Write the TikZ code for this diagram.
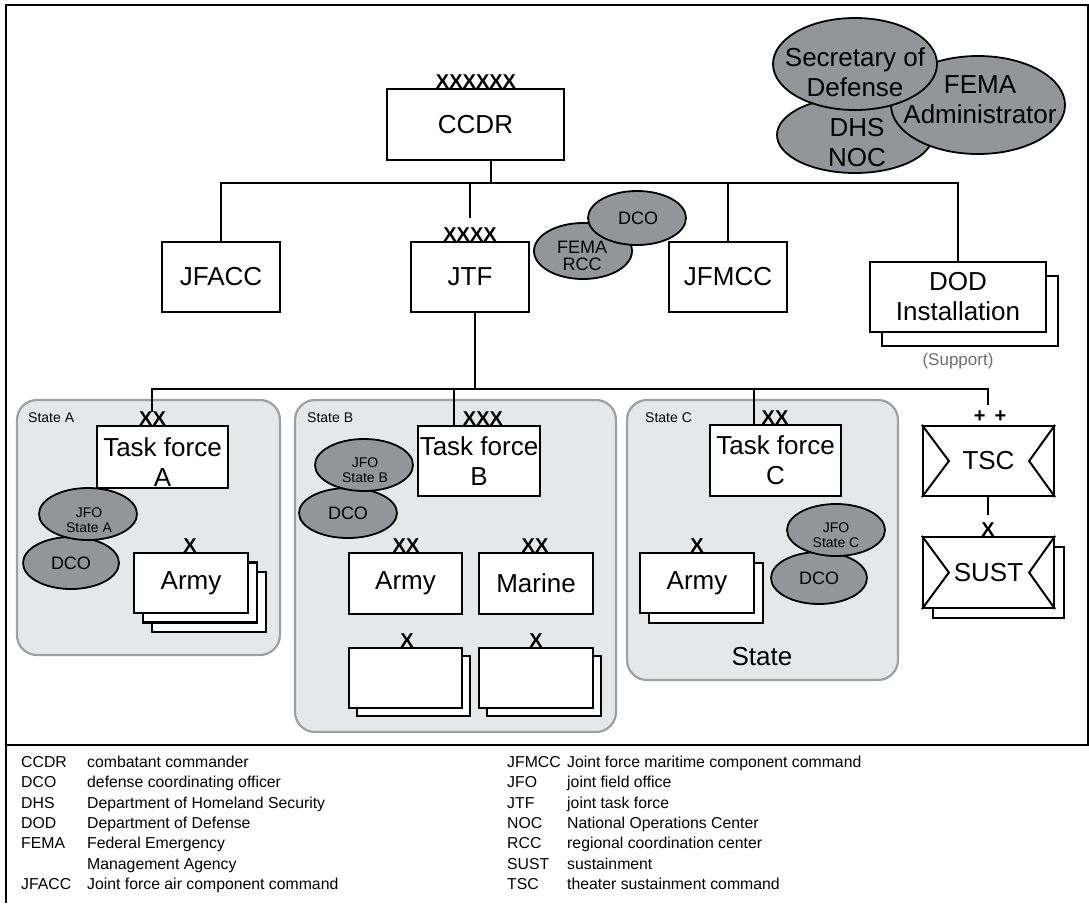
\documentclass[tikz,border=0pt]{standalone}
\usepackage{fontspec}
\setmainfont{Liberation Sans}
\usetikzlibrary{shapes.geometric,shadows,calc}
\definecolor{ellgray}{HTML}{939598}
\definecolor{statefill}{HTML}{E6E7E8}
\definecolor{stateedge}{HTML}{9D9FA2}
\definecolor{supgray}{HTML}{6D6E71}
\begin{document}
\begin{tikzpicture}[x=1pt,y=-1pt,
  box/.style={draw, line width=2.2pt, fill=white, inner sep=0pt, align=center,
    font=\fontsize{26}{30}\selectfont},
  ell/.style={ellipse, draw, line width=1.8pt, fill=ellgray, inner sep=0pt},
  etext/.style={align=center, inner sep=0pt},
  boxtext/.style={etext, font=\fontsize{26}{30}\selectfont},
  bigtext/.style={etext, font=\fontsize{26}{30}\selectfont},
  midtext/.style={etext, font=\fontsize{18}{17}\selectfont},
  smalltext/.style={etext, font=\fontsize{14}{15}\selectfont},
  statebox/.style={draw=stateedge, fill=statefill, line width=2.2pt, rounded corners=20pt, inner sep=0pt},
  statelabel/.style={anchor=west, inner sep=0pt, font=\fontsize{14}{16}\selectfont},
  conn/.style={line width=2pt},
  ech/.style={anchor=south, inner sep=0pt, font=\fontsize{20}{20}\bfseries\selectfont},
  leg/.style={anchor=base west, inner sep=0pt, font=\fontsize{15.8}{18}\selectfont},
  frame/.style={line width=2.5pt}
]
\useasboundingbox (0,0) rectangle (1089,903);

% frame
\draw[frame] (6,903) -- (6,5) -- (1088,5) -- (1088,745);
\draw[frame] (6,745) -- (1089,745);

% state areas
\node[statebox, minimum width=263pt, minimum height=255pt] (stA) at (148.5,527.5) {};
\node[statebox, minimum width=321pt, minimum height=332pt] (stB) at (455.5,566) {};
\node[statebox, minimum width=271pt, minimum height=280pt] (stC) at (762.5,540) {};
\node[statelabel] (stAl) at (28,418) {State A};
\node[statelabel] (stBl) at (307,418) {State B};
\node[statelabel] (stCl) at (645,418) {State C};
\node[boxtext] (stCs) at (762,657) {State};

% top ellipses
\node[ell, minimum width=156pt, minimum height=76pt] (dhs) at (855,135) {};
\node[ell, minimum width=174pt, minimum height=98pt] (femaadm) at (978,105) {};
\node[ell, minimum width=164pt, minimum height=92pt] (secdef) at (855,64) {};
\node[bigtext] (secdeft) at (855,72) {Secretary of\\Defense};
\node[bigtext] (femaadmt) at (980,100) {FEMA\\Administrator};
\node[bigtext] (dhst) at (857,143) {DHS\\NOC};

% boxes
\node[box, minimum width=177pt, minimum height=71pt] (ccdr) at (475.5,124.5) {CCDR};
\node[box, minimum width=118pt, minimum height=70pt] (jfacc) at (221,277) {JFACC};
\node[box, minimum width=118pt, minimum height=70pt] (jtf) at (470,277) {JTF};
\node[box, minimum width=118pt, minimum height=70pt] (jfmcc) at (728,277) {JFMCC};
\node[box, minimum width=176pt, minimum height=70pt,
  copy shadow={shadow xshift=12pt, shadow yshift=-14pt}] (dod) at (958,297) {DOD\\Installation};
\node[etext, text=supgray, font=\fontsize{17}{20}\selectfont] (support) at (958,361) {(Support)};

\node[box, minimum width=131pt, minimum height=62pt] (tfa) at (162.5,457) {};
\node[boxtext] (tfat) at (162.5,462) {Task force\\A};
\node[box, minimum width=122pt, minimum height=70pt] (tfb) at (479,461) {Task force\\B};
\node[box, minimum width=131pt, minimum height=71pt] (tfc) at (775.5,460.5) {Task force\\C};
\node[box, minimum width=131pt, minimum height=70pt] (tsc) at (988.5,461) {TSC};
\node[box, minimum width=131pt, minimum height=71pt,
  copy shadow={shadow xshift=10pt, shadow yshift=-10pt}] (sust) at (988.5,572.5) {SUST};

\node[box, minimum width=114pt, minimum height=60pt,
  double copy shadow={shadow xshift=9pt, shadow yshift=-9.5pt}] (armya) at (191,583) {Army};
\node[box, minimum width=113pt, minimum height=61pt] (armyb) at (405.5,583.5) {Army};
\node[box, minimum width=114pt, minimum height=61pt] (marine) at (536,583.5) {Marine};
\node[box, minimum width=113pt, minimum height=60pt,
  copy shadow={shadow xshift=8pt, shadow yshift=-8pt}] (emptyb1) at (405.5,678) {};
\node[box, minimum width=114pt, minimum height=60pt,
  copy shadow={shadow xshift=8pt, shadow yshift=-8pt}] (emptyb2) at (536,678) {};
\node[box, minimum width=114pt, minimum height=60pt,
  copy shadow={shadow xshift=9pt, shadow yshift=-10pt}] (armyc) at (697,583) {Army};

% chevrons in TSC / SUST
\draw[line width=2pt] (tsc.north west) -- ($(tsc.west)+(27,0)$) -- (tsc.south west);
\draw[line width=2pt] (tsc.north east) -- ($(tsc.east)+(-26,0)$) -- (tsc.south east);
\draw[line width=2pt] (sust.north west) -- ($(sust.west)+(27,0)$) -- (sust.south west);
\draw[line width=2pt] (sust.north east) -- ($(sust.east)+(-26,0)$) -- (sust.south east);

% ellipses near JTF
\node[ell, minimum width=98pt, minimum height=56pt] (femarcc) at (583,251) {};
\node[ell, minimum width=98pt, minimum height=54pt] (dcotop) at (637,218) {};
\node[midtext] (dcotopt) at (638,218) {DCO};
\node[midtext] (femarcct) at (582,256) {FEMA\\RCC};

% state ellipses
\node[ell, minimum width=96pt, minimum height=52pt] (dcoa) at (71,563) {};
\node[ell, minimum width=98pt, minimum height=52pt] (jfoa) at (88,514) {};
\node[midtext] (dcoat) at (71,563) {DCO};
\node[smalltext] (jfoat) at (89,520) {JFO\\State A};

\node[ell, minimum width=98pt, minimum height=50pt] (dcob) at (348,513) {};
\node[ell, minimum width=98pt, minimum height=52pt] (jfob) at (364,465) {};
\node[midtext] (dcobt) at (348,513) {DCO};
\node[smalltext] (jfobt) at (365,470) {JFO\\State B};

\node[ell, minimum width=96pt, minimum height=52pt] (dcoc) at (819,578) {};
\node[ell, minimum width=98pt, minimum height=52pt] (jfoc) at (836,530) {};
\node[midtext] (dcoct) at (819,578) {DCO};
\node[smalltext] (jfoct) at (836,535) {JFO\\State C};

% echelon marks
\node[ech] (e1) at (476,89) {XXXXXX};
\node[ech] (e2) at (470,242) {XXXX};
\node[ech] (e3) at (152.5,426) {XX};
\node[ech] (e4) at (483,426) {XXX};
\node[ech] (e5) at (775,425) {XX};
\node[ech] (e6) at (990,423) {+\hspace{9pt}+};
\node[ech] (e7) at (988,537) {X};
\node[ech] (e8) at (190,553) {X};
\node[ech] (e9) at (406,553) {XX};
\node[ech] (e10) at (535,553) {XX};
\node[ech] (e11) at (407,648) {X};
\node[ech] (e12) at (536,648) {X};
\node[ech] (e13) at (697,553) {X};

% connectors upper
\coordinate (b1) at (491,183);
\draw[conn] (ccdr.south -| b1) -- (b1);
\draw[conn] (jfacc.north) -- (jfacc.north |- b1) -- (dod.north |- b1) -- (dod.north);
\draw[conn] (jfmcc.north |- b1) -- (jfmcc.north);
\coordinate (jtfend) at (470,218);
\draw[conn] (jtfend |- b1) -- (jtfend);
\coordinate (jtfdown) at (475,389);
\draw[conn] (jtf.south -| jtfdown) -- (jtfdown);

% connectors lower
\coordinate (tfaend) at (152,412);
\coordinate (tscend) at (988,405);
\draw[conn] (tfaend) -- (tfaend |- jtfdown) -- (tscend |- jtfdown) -- (tscend);
\coordinate (tfbx) at (454,389);
\draw[conn] (tfbx) -- (tfb.north -| tfbx);
\coordinate (tfcx) at (754,389);
\draw[conn] (tfcx) -- (tfc.north -| tfcx);
\coordinate (sustend) at (988,515);
\draw[conn] (tsc.south -| sustend) -- (sustend);

% legend
\foreach \ab/\de [count=\i from 0] in {CCDR/combatant commander,
  DCO/defense coordinating officer, DHS/Department of Homeland Security,
  DOD/Department of Defense, FEMA/Federal Emergency, /Management Agency,
  JFACC/Joint force air component command}{
  \node[leg] (la\i) at (21,767.5+20.3*\i) {\ab};
  \node[leg] (ld\i) at (87,767.5+20.3*\i) {\de};
}
\foreach \ab/\de [count=\i from 0] in {JFMCC/Joint force maritime component command,
  JFO/joint field office, JTF/joint task force, NOC/National Operations Center,
  RCC/regional coordination center, SUST/sustainment, TSC/theater sustainment command}{
  \node[leg] (ra\i) at (507,767.5+20.3*\i) {\ab};
  \node[leg] (rd\i) at (567,767.5+20.3*\i) {\de};
}
\end{tikzpicture}
\end{document}
